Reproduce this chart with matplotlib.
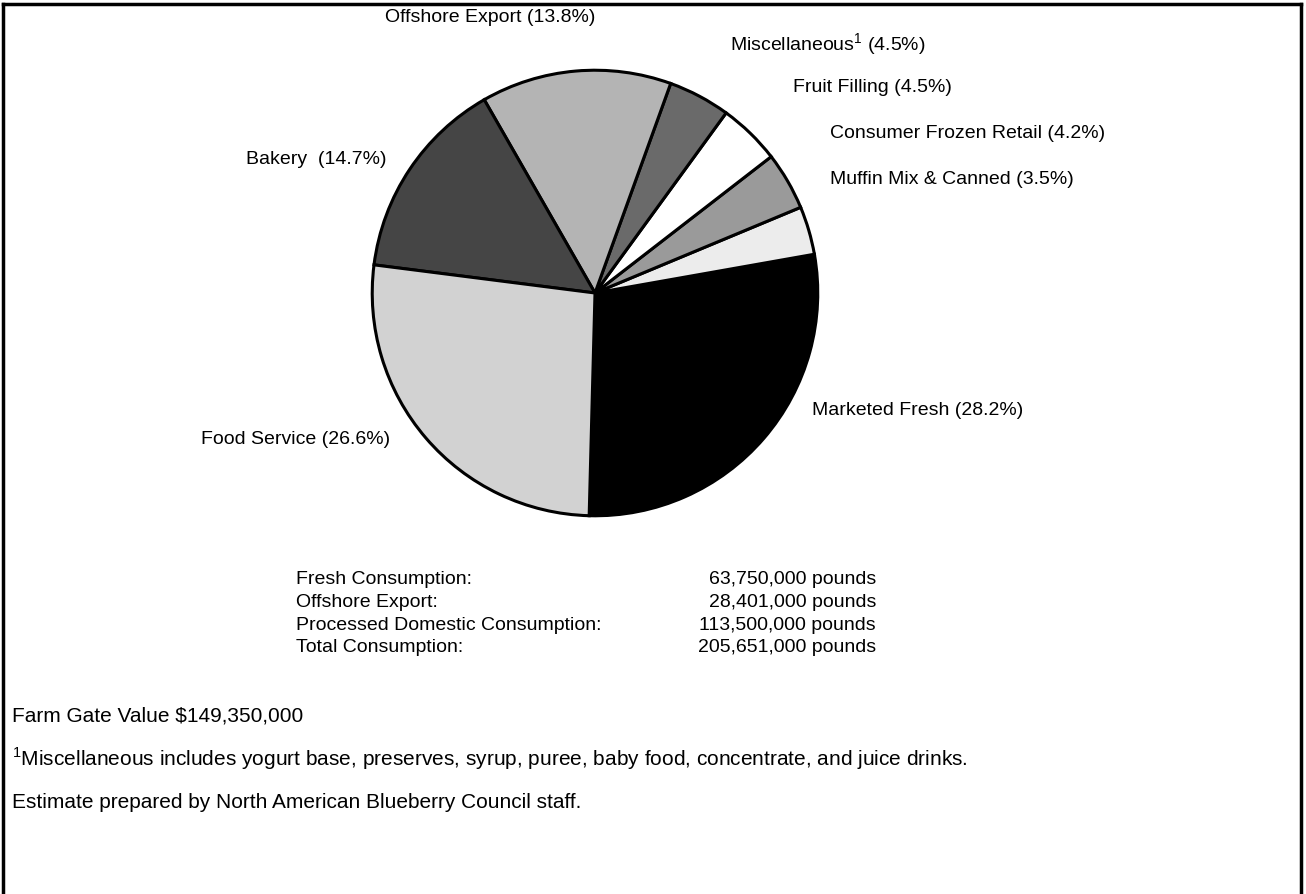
import matplotlib.pyplot as plt
from matplotlib.lines import Line2D

# ---------------------------------------------------------------
# DADOS

categorias = ['Marketed Fresh', 'Muffin Mix & Canned', 'Consumer Frozen Retail',
              'Fruit Filling', 'Miscellaneous', 'Offshore Export', 'Bakery',
              'Food Service']
percentuais = [28.2, 3.5, 4.2, 4.5, 4.5, 13.8, 14.7, 26.6]
rotulos = ['Marketed Fresh (28.2%)', 'Muffin Mix & Canned (3.5%)',
           'Consumer Frozen Retail (4.2%)', 'Fruit Filling (4.5%)',
           r'Miscellaneous$^{\mathregular{1}}$ (4.5%)', 'Offshore Export (13.8%)',
           'Bakery  (14.7%)', 'Food Service (26.6%)']

tabela_nomes = ['Fresh Consumption:', 'Offshore Export:',
                'Processed Domestic Consumption:', 'Total Consumption:']
tabela_valores = ['63,750,000 pounds', '28,401,000 pounds',
                  '113,500,000 pounds', '205,651,000 pounds']

notas = ['Farm Gate Value $149,350,000',
         '$^{\\mathregular{1}}$Miscellaneous includes yogurt base, preserves, syrup, puree, '
         'baby food, concentrate, and juice drinks.',
         'Estimate prepared by North American Blueberry Council staff.']

# ---------------------------------------------------------------
# ESTILO

W, H = 1306, 894
plt.rcParams['font.family'] = ['Liberation Sans', 'DejaVu Sans']
plt.rcParams['mathtext.fontset'] = 'custom'
plt.rcParams['mathtext.rm'] = 'Liberation Sans'
fs = 14

cores = ['#000000', '#ececec', '#9a9a9a', '#ffffff',
         '#6a6a6a', '#b4b4b4', '#454545', '#d2d2d2']

# posições dos rótulos (pixels)
pos_rotulos = [(812, 410, 'left'), (830, 180, 'left'), (830, 134, 'left'),
               (793, 88, 'left'), (730, 45, 'left'), (385, 18, 'left'),
               (387, 160, 'right'), (390, 440, 'right')]


def px(x, y):
    return x / W, 1 - y / H


fig = plt.figure(figsize=(W / 100, H / 100), dpi=100)

# Pizza
cx, cy, r = 595, 293, 225
ax = fig.add_axes([(cx - r) / W, (H - cy - r) / H, 2 * r / W, 2 * r / H])
ax.pie(percentuais, colors=cores, startangle=-91.5, counterclock=True,
       wedgeprops=dict(edgecolor='black', linewidth=2.2))
ax.set_xlim(-1.01, 1.01)
ax.set_ylim(-1.01, 1.01)

for rot, (x, y, ha) in zip(rotulos, pos_rotulos):
    fig.text(*px(x, y), rot, fontsize=fs, ha=ha, va='center')

# Tabela
for i, (nome, valor) in enumerate(zip(tabela_nomes, tabela_valores)):
    y = 580 + i * 22.5
    fig.text(*px(296, y), nome, fontsize=fs, ha='left', va='center')
    fig.text(*px(876, y), valor, fontsize=fs, ha='right', va='center')

# Notas
for nota, y in zip(notas, [716, 759, 802]):
    fig.text(*px(12, y), nota, fontsize=fs + 1, ha='left', va='center')

# Moldura
for xs, ys in [([3, 3], [4, H]), ([3, 1301], [4, 4]), ([1301, 1301], [4, H])]:
    fig.add_artist(Line2D([x / W for x in xs], [1 - y / H for y in ys],
                          color='black', linewidth=2.5))

fig.savefig('out.png', dpi=100)
